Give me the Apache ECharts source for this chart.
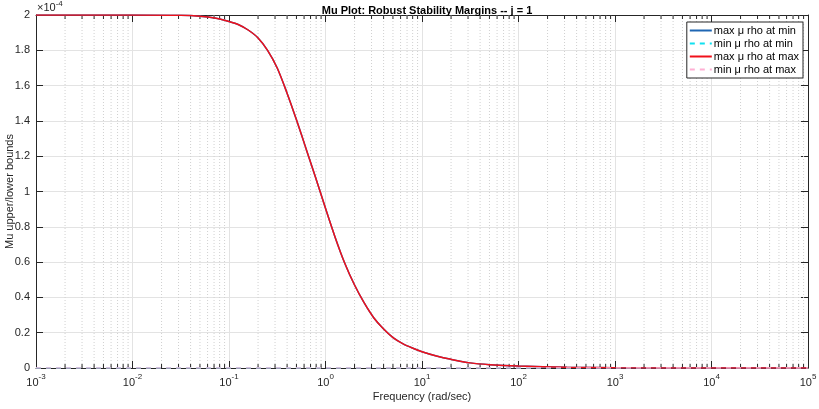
<!DOCTYPE html>
<html>
<head>
<meta charset="utf-8">
<script src="https://cdn.jsdelivr.net/npm/echarts@6/dist/echarts.min.js"></script>
<style>
  html, body { margin: 0; padding: 0; background: #fff; }
  #chart { width: 819px; height: 409px; }
</style>
</head>
<body>
<div id="chart"></div>
<script>
// frequency grid (rad/sec), values in units of 1e-4
let freq = [0.001, 0.00316, 0.01, 0.0316, 0.05, 0.071, 0.1, 0.126, 0.158, 0.2, 0.251, 0.316, 0.398, 0.501, 0.631, 0.794,
    1, 1.26, 1.58, 2, 2.51, 3.16, 3.98, 5.01, 6.31, 7.94, 10, 14.1, 20, 31.6, 50.1, 100, 316, 1000, 10000, 100000];
let maxMuAtMin = [2.0, 2.0, 2.0, 1.998, 1.993, 1.983, 1.963, 1.945, 1.915, 1.87, 1.80, 1.70, 1.56, 1.405, 1.24, 1.075,
    0.905, 0.74, 0.595, 0.47, 0.37, 0.285, 0.222, 0.172, 0.138, 0.113, 0.092, 0.068, 0.049, 0.029, 0.019, 0.011, 0.0045, 0.0015, 0.00015, 0.000015];
let maxMuAtMax = [2.0, 2.0, 2.0, 1.998, 1.993, 1.983, 1.963, 1.945, 1.915, 1.87, 1.80, 1.70, 1.56, 1.405, 1.24, 1.075,
    0.905, 0.74, 0.595, 0.47, 0.37, 0.285, 0.222, 0.172, 0.138, 0.113, 0.092, 0.068, 0.049, 0.029, 0.019, 0.011, 0.0045, 0.0015, 0.00015, 0.000015];
let minMuAtMin = [0, 0, 0, 0, 0, 0, 0, 0, 0, 0, 0, 0, 0, 0, 0, 0,
    0, 0, 0, 0, 0, 0, 0, 0, 0, 0, 0, 0, 0, 0, 0, 0, 0, 0, 0, 0];
let minMuAtMax = [0, 0, 0, 0, 0, 0, 0, 0, 0, 0, 0, 0, 0, 0, 0, 0,
    0, 0, 0, 0, 0, 0, 0, 0, 0, 0, 0, 0, 0, 0, 0, 0, 0, 0, 0, 0];
let seriesNames = ['max μ rho at min', 'min μ rho at min', 'max μ rho at max', 'min μ rho at max'];

// minor decade positions for the log grid (2..9 x 10^k)
let minorFreq = [];
for (let k = -3; k < 5; k++) {
    for (let m = 2; m <= 9; m++) {
        minorFreq.push(m * Math.pow(10, k));
    }
}

const FONT = 'Liberation Sans';
const AXIS = '#262626';

function pairs(ys) {
    return freq.map(function (f, i) { return [f, ys[i]]; });
}

let chart = echarts.init(document.getElementById('chart'), null, {renderer: 'canvas'});

let option = {
    animation: false,
    backgroundColor: '#fff',
    textStyle: {fontFamily: FONT},
    title: {
        text: 'Mu Plot: Robust Stability Margins -- j = 1',
        left: 422, top: 0, textAlign: 'center',
        textStyle: {fontSize: 11, fontWeight: 'bold', color: '#000', fontFamily: FONT}
    },
    grid: {left: 36, right: 11, top: 15, bottom: 41, containLabel: false, outerBoundsMode: 'none'},
    legend: {
        right: 16, top: 22, orient: 'vertical',
        itemWidth: 22, itemHeight: 10, itemGap: 2,
        padding: [3, 4, 3, 2],
        backgroundColor: '#fff', borderColor: '#262626', borderWidth: 1,
        itemStyle: {opacity: 0},
        textStyle: {fontSize: 11, color: '#000', fontFamily: FONT, padding: [0, 0, 0, -3]},
        data: seriesNames
    },
    xAxis: [{
        type: 'log', logBase: 10, min: 0.001, max: 100000,
        axisLine: {onZero: false, lineStyle: {color: AXIS}},
        axisTick: {inside: true, length: 7, lineStyle: {color: AXIS}},
        splitLine: {show: true, lineStyle: {color: '#e3e3e3'}},
        axisLabel: {
            margin: 5, color: '#262626',
            formatter: function (v) {
                let e = Math.round(Math.log10(v));
                return '{b|10}{s|' + e + '}';
            },
            rich: {
                b: {fontSize: 11, fontFamily: FONT, color: '#262626', verticalAlign: 'bottom', lineHeight: 15},
                s: {fontSize: 8, fontFamily: FONT, color: '#262626', verticalAlign: 'top', lineHeight: 15}
            }
        },
        name: 'Frequency (rad/sec)', nameLocation: 'middle', nameGap: 23, nameMoveOverlap: false,
        nameTextStyle: {fontSize: 11, color: '#262626', fontFamily: FONT}
    }, {
        type: 'log', logBase: 10, min: 0.001, max: 100000, position: 'top',
        axisLine: {onZero: false, lineStyle: {color: AXIS}},
        axisTick: {inside: true, length: 7, lineStyle: {color: AXIS}},
        axisLabel: {show: false}, splitLine: {show: false}
    }],
    yAxis: [{
        type: 'value', min: 0, max: 2, interval: 0.2,
        axisLine: {show: true, lineStyle: {color: AXIS}},
        axisTick: {show: true, inside: true, length: 7, lineStyle: {color: AXIS}},
        splitLine: {show: true, lineStyle: {color: '#e3e3e3'}},
        axisLabel: {fontSize: 11, color: '#262626', margin: 6},
        name: 'Mu upper/lower bounds', nameLocation: 'middle', nameGap: 21, nameMoveOverlap: false,
        nameTextStyle: {fontSize: 11, color: '#262626', fontFamily: FONT}
    }, {
        type: 'value', min: 0, max: 2, interval: 0.2, position: 'right',
        axisLine: {show: true, lineStyle: {color: AXIS}},
        axisTick: {show: true, inside: true, length: 7, lineStyle: {color: AXIS}},
        axisLabel: {show: false}, splitLine: {show: false}
    }],
    graphic: [{
        type: 'text', left: 37, top: 0,
        style: {
            text: '{b|×10}{s|-4}',
            rich: {
                b: {fontSize: 11, fontFamily: FONT, fill: '#262626', verticalAlign: 'bottom', lineHeight: 13},
                s: {fontSize: 8, fontFamily: FONT, fill: '#262626', verticalAlign: 'top', lineHeight: 13}
            }
        }
    }],
    series: [{
        // minor log grid and minor ticks, placed through the axis scale
        type: 'custom', silent: true, z: 1, xAxisIndex: 0, yAxisIndex: 0,
        data: minorFreq,
        renderItem: function (params, api) {
            let x = api.coord([api.value(0), 0])[0];
            let y0 = params.coordSys.y;
            let y1 = params.coordSys.y + params.coordSys.height;
            return {
                type: 'group',
                children: [{
                    type: 'line', shape: {x1: x, y1: y0, x2: x, y2: y1},
                    style: {stroke: '#d0d0d0', lineWidth: 1, lineDash: [1, 2]}
                }, {
                    type: 'line', shape: {x1: x, y1: y1, x2: x, y2: y1 - 4},
                    style: {stroke: AXIS, lineWidth: 1}
                }, {
                    type: 'line', shape: {x1: x, y1: y0, x2: x, y2: y0 + 4},
                    style: {stroke: AXIS, lineWidth: 1}
                }]
            };
        },
        encode: {x: 0}
    }, {
        name: seriesNames[0], type: 'line', data: pairs(maxMuAtMin),
        smooth: 0.3, symbol: 'none', z: 3,
        lineStyle: {color: '#1f66b3', width: 1.5}, itemStyle: {color: '#1f66b3'}
    }, {
        name: seriesNames[1], type: 'line', data: pairs(minMuAtMin),
        symbol: 'none', z: 3,
        lineStyle: {color: '#10e0f0', width: 1.5, type: [5, 5]}, itemStyle: {color: '#10e0f0'}
    }, {
        name: seriesNames[2], type: 'line', data: pairs(maxMuAtMax),
        smooth: 0.3, symbol: 'none', z: 4,
        lineStyle: {color: '#f0101a', width: 1.5}, itemStyle: {color: '#f0101a'}
    }, {
        name: seriesNames[3], type: 'line', data: pairs(minMuAtMax),
        symbol: 'none', z: 4,
        lineStyle: {color: '#ffb0d4', width: 1.5, type: [5, 5]}, itemStyle: {color: '#ffb0d4'}
    }]
};

chart.setOption(option);
</script>
</body>
</html>
